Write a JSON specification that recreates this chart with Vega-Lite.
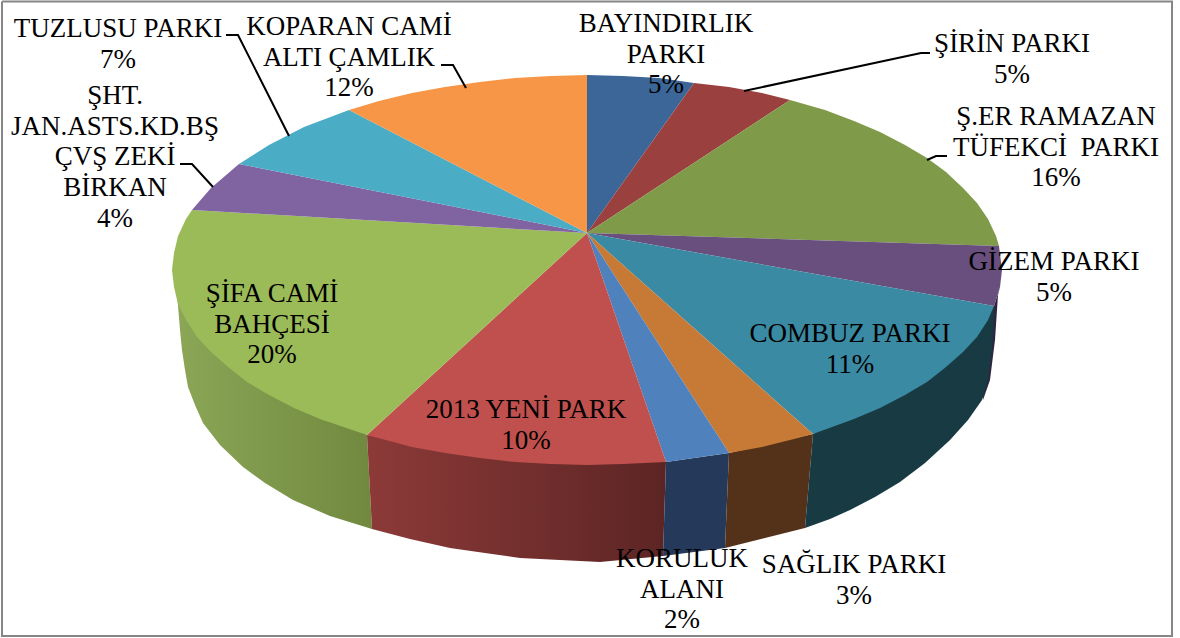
{"$schema":"https://vega.github.io/schema/vega-lite/v6.json","width":1180,"height":638,"padding":0,"autosize":"none","background":"white","config":{"view":{"stroke":null}},
"datasets":{
"faces":[
{"p":"w green","i":1,"x":-220,"y":-202},{"p":"w green","i":2,"x":-410,"y":-60},{"p":"w green","i":3,"x":-407,"y":-97},{"p":"w green","i":4,"x":-405,"y":-117},{"p":"w green","i":5,"x":-402,"y":-137},{"p":"w green","i":6,"x":-399,"y":-154},{"p":"w green","i":7,"x":-392,"y":-172},{"p":"w green","i":8,"x":-384,"y":-190},{"p":"w green","i":9,"x":-367,"y":-212},{"p":"w green","i":10,"x":-344,"y":-234},{"p":"w green","i":11,"x":-322,"y":-250},{"p":"w green","i":12,"x":-294,"y":-267},{"p":"w green","i":13,"x":-257,"y":-283},{"p":"w green","i":14,"x":-215,"y":-296},
{"p":"w red","i":1,"x":-220,"y":-202},{"p":"w red","i":2,"x":79,"y":-229},{"p":"w red","i":3,"x":76,"y":-323},{"p":"w red","i":4,"x":13,"y":-329},{"p":"w red","i":5,"x":-67,"y":-325},{"p":"w red","i":6,"x":-102,"y":-320},{"p":"w red","i":7,"x":-137,"y":-315},{"p":"w red","i":8,"x":-177,"y":-306},{"p":"w red","i":9,"x":-215,"y":-296},
{"p":"w blue","i":1,"x":79,"y":-229},{"p":"w blue","i":2,"x":142,"y":-220},{"p":"w blue","i":3,"x":138,"y":-315},{"p":"w blue","i":4,"x":76,"y":-323},
{"p":"w orange","i":1,"x":142,"y":-220},{"p":"w orange","i":2,"x":226,"y":-201},{"p":"w orange","i":3,"x":218,"y":-295},{"p":"w orange","i":4,"x":138,"y":-315},
{"p":"w purple","i":1,"x":413,"y":-54},{"p":"w purple","i":2,"x":411,"y":-62},{"p":"w purple","i":3,"x":408,"y":-107},{"p":"w purple","i":4,"x":403,"y":-147},{"p":"w purple","i":5,"x":396,"y":-167},{"p":"w purple","i":6,"x":395,"y":-160},{"p":"w purple","i":7,"x":400,"y":-110},{"p":"w purple","i":8,"x":407,"y":-73},
{"p":"w teal","i":1,"x":226,"y":-201},{"p":"w teal","i":2,"x":407,"y":-73},{"p":"w teal","i":3,"x":406,"y":-107},{"p":"w teal","i":4,"x":401,"y":-147},{"p":"w teal","i":5,"x":395,"y":-167},{"p":"w teal","i":6,"x":381,"y":-187},{"p":"w teal","i":7,"x":363,"y":-207},{"p":"w teal","i":8,"x":338,"y":-230},{"p":"w teal","i":9,"x":313,"y":-249},{"p":"w teal","i":10,"x":288,"y":-264},{"p":"w teal","i":11,"x":263,"y":-277},{"p":"w teal","i":12,"x":243,"y":-286},{"p":"w teal","i":13,"x":218,"y":-295},
{"p":"BAYINDIRLIK PARKI","i":0,"x":0,"y":0},{"p":"BAYINDIRLIK PARKI","i":1,"x":0,"y":158},{"p":"BAYINDIRLIK PARKI","i":2,"x":36,"y":157},{"p":"BAYINDIRLIK PARKI","i":3,"x":72,"y":155},{"p":"BAYINDIRLIK PARKI","i":4,"x":107,"y":150},
{"p":"ŞİRİN PARKI","i":0,"x":0,"y":0},{"p":"ŞİRİN PARKI","i":1,"x":107,"y":150},{"p":"ŞİRİN PARKI","i":2,"x":142,"y":146},{"p":"ŞİRİN PARKI","i":3,"x":175,"y":140},{"p":"ŞİRİN PARKI","i":4,"x":203,"y":133},
{"p":"Ş.ER RAMAZAN TÜFEKCİ PARKI","i":0,"x":0,"y":0},{"p":"Ş.ER RAMAZAN TÜFEKCİ PARKI","i":1,"x":203,"y":133},{"p":"Ş.ER RAMAZAN TÜFEKCİ PARKI","i":2,"x":238,"y":123},{"p":"Ş.ER RAMAZAN TÜFEKCİ PARKI","i":3,"x":267,"y":112},{"p":"Ş.ER RAMAZAN TÜFEKCİ PARKI","i":4,"x":293,"y":101},{"p":"Ş.ER RAMAZAN TÜFEKCİ PARKI","i":5,"x":318,"y":88},{"p":"Ş.ER RAMAZAN TÜFEKCİ PARKI","i":6,"x":340,"y":75},{"p":"Ş.ER RAMAZAN TÜFEKCİ PARKI","i":7,"x":359,"y":61},{"p":"Ş.ER RAMAZAN TÜFEKCİ PARKI","i":8,"x":376,"y":45},{"p":"Ş.ER RAMAZAN TÜFEKCİ PARKI","i":9,"x":390,"y":30},{"p":"Ş.ER RAMAZAN TÜFEKCİ PARKI","i":10,"x":401,"y":14},{"p":"Ş.ER RAMAZAN TÜFEKCİ PARKI","i":11,"x":409,"y":-3},{"p":"Ş.ER RAMAZAN TÜFEKCİ PARKI","i":12,"x":412,"y":-13},
{"p":"GİZEM PARKI","i":0,"x":0,"y":0},{"p":"GİZEM PARKI","i":1,"x":412,"y":-13},{"p":"GİZEM PARKI","i":2,"x":415,"y":-37},{"p":"GİZEM PARKI","i":3,"x":413,"y":-54},{"p":"GİZEM PARKI","i":4,"x":407,"y":-73},
{"p":"COMBUZ PARKI","i":0,"x":0,"y":0},{"p":"COMBUZ PARKI","i":1,"x":407,"y":-73},{"p":"COMBUZ PARKI","i":2,"x":401,"y":-87},{"p":"COMBUZ PARKI","i":3,"x":390,"y":-104},{"p":"COMBUZ PARKI","i":4,"x":376,"y":-119},{"p":"COMBUZ PARKI","i":5,"x":359,"y":-134},{"p":"COMBUZ PARKI","i":6,"x":340,"y":-149},{"p":"COMBUZ PARKI","i":7,"x":318,"y":-162},{"p":"COMBUZ PARKI","i":8,"x":293,"y":-175},{"p":"COMBUZ PARKI","i":9,"x":267,"y":-186},{"p":"COMBUZ PARKI","i":10,"x":226,"y":-201},
{"p":"SAĞLIK PARKI","i":0,"x":0,"y":0},{"p":"SAĞLIK PARKI","i":1,"x":226,"y":-201},{"p":"SAĞLIK PARKI","i":2,"x":207,"y":-206},{"p":"SAĞLIK PARKI","i":3,"x":175,"y":-214},{"p":"SAĞLIK PARKI","i":4,"x":142,"y":-220},
{"p":"KORULUK ALANI","i":0,"x":0,"y":0},{"p":"KORULUK ALANI","i":1,"x":142,"y":-220},{"p":"KORULUK ALANI","i":2,"x":107,"y":-225},{"p":"KORULUK ALANI","i":3,"x":79,"y":-229},
{"p":"2013 YENİ PARK","i":0,"x":0,"y":0},{"p":"2013 YENİ PARK","i":1,"x":79,"y":-229},{"p":"2013 YENİ PARK","i":2,"x":36,"y":-231},{"p":"2013 YENİ PARK","i":3,"x":0,"y":-232},{"p":"2013 YENİ PARK","i":4,"x":-36,"y":-231},{"p":"2013 YENİ PARK","i":5,"x":-72,"y":-229},{"p":"2013 YENİ PARK","i":6,"x":-107,"y":-225},{"p":"2013 YENİ PARK","i":7,"x":-142,"y":-220},{"p":"2013 YENİ PARK","i":8,"x":-175,"y":-214},{"p":"2013 YENİ PARK","i":9,"x":-220,"y":-202},
{"p":"ŞİFA CAMİ BAHÇESİ","i":0,"x":0,"y":0},{"p":"ŞİFA CAMİ BAHÇESİ","i":1,"x":-220,"y":-202},{"p":"ŞİFA CAMİ BAHÇESİ","i":2,"x":-267,"y":-186},{"p":"ŞİFA CAMİ BAHÇESİ","i":3,"x":-293,"y":-175},{"p":"ŞİFA CAMİ BAHÇESİ","i":4,"x":-318,"y":-162},{"p":"ŞİFA CAMİ BAHÇESİ","i":5,"x":-340,"y":-149},{"p":"ŞİFA CAMİ BAHÇESİ","i":6,"x":-359,"y":-134},{"p":"ŞİFA CAMİ BAHÇESİ","i":7,"x":-376,"y":-119},{"p":"ŞİFA CAMİ BAHÇESİ","i":8,"x":-390,"y":-104},{"p":"ŞİFA CAMİ BAHÇESİ","i":9,"x":-401,"y":-87},{"p":"ŞİFA CAMİ BAHÇESİ","i":10,"x":-409,"y":-71},{"p":"ŞİFA CAMİ BAHÇESİ","i":11,"x":-413,"y":-54},{"p":"ŞİFA CAMİ BAHÇESİ","i":12,"x":-415,"y":-37},{"p":"ŞİFA CAMİ BAHÇESİ","i":13,"x":-413,"y":-20},{"p":"ŞİFA CAMİ BAHÇESİ","i":14,"x":-409,"y":-3},{"p":"ŞİFA CAMİ BAHÇESİ","i":15,"x":-401,"y":14},{"p":"ŞİFA CAMİ BAHÇESİ","i":16,"x":-395,"y":23},
{"p":"ŞHT. JAN.ASTS.KD.BŞ ÇVŞ ZEKİ BİRKAN","i":0,"x":0,"y":0},{"p":"ŞHT. JAN.ASTS.KD.BŞ ÇVŞ ZEKİ BİRKAN","i":1,"x":-395,"y":23},{"p":"ŞHT. JAN.ASTS.KD.BŞ ÇVŞ ZEKİ BİRKAN","i":2,"x":-376,"y":45},{"p":"ŞHT. JAN.ASTS.KD.BŞ ÇVŞ ZEKİ BİRKAN","i":3,"x":-348,"y":69},
{"p":"TUZLUSU PARKI","i":0,"x":0,"y":0},{"p":"TUZLUSU PARKI","i":1,"x":-348,"y":69},{"p":"TUZLUSU PARKI","i":2,"x":-318,"y":88},{"p":"TUZLUSU PARKI","i":3,"x":-283,"y":106},{"p":"TUZLUSU PARKI","i":4,"x":-238,"y":123},
{"p":"KOPARAN CAMİ ALTI ÇAMLIK","i":0,"x":0,"y":0},{"p":"KOPARAN CAMİ ALTI ÇAMLIK","i":1,"x":-238,"y":123},{"p":"KOPARAN CAMİ ALTI ÇAMLIK","i":2,"x":-208,"y":132},{"p":"KOPARAN CAMİ ALTI ÇAMLIK","i":3,"x":-175,"y":140},{"p":"KOPARAN CAMİ ALTI ÇAMLIK","i":4,"x":-142,"y":146},{"p":"KOPARAN CAMİ ALTI ÇAMLIK","i":5,"x":-107,"y":151},{"p":"KOPARAN CAMİ ALTI ÇAMLIK","i":6,"x":-72,"y":155},{"p":"KOPARAN CAMİ ALTI ÇAMLIK","i":7,"x":-36,"y":157},{"p":"KOPARAN CAMİ ALTI ÇAMLIK","i":8,"x":0,"y":158}
],
"leaders":[
{"p":"a","i":1,"x":-361,"y":198},{"p":"a","i":2,"x":-349,"y":198},{"p":"a","i":3,"x":-298,"y":97},
{"p":"b","i":1,"x":-146,"y":168},{"p":"b","i":2,"x":-134,"y":168},{"p":"b","i":3,"x":-121,"y":145},
{"p":"c","i":1,"x":343,"y":180},{"p":"c","i":2,"x":334,"y":180},{"p":"c","i":3,"x":157,"y":142},
{"p":"d","i":1,"x":360,"y":77},{"p":"d","i":2,"x":349,"y":77},{"p":"d","i":3,"x":340,"y":73},
{"p":"e","i":1,"x":-407,"y":69},{"p":"e","i":2,"x":-395,"y":69},{"p":"e","i":3,"x":-374,"y":46}
],
"frame":[
{"i":1,"x":-585,"y":231.5},{"i":2,"x":585,"y":231.5},{"i":3,"x":585,"y":-403},{"i":4,"x":-585,"y":-403},{"i":5,"x":-585,"y":231.5}
],
"labels":[
{"label":"BAYINDIRLIK\nPARKI\n5%","x":79,"y":201},
{"label":"ŞİRİN PARKI\n5%","x":425,"y":181},
{"label":"Ş.ER RAMAZAN\nTÜFEKCİ\u00a0 PARKI\n16%","x":469,"y":108},
{"label":"GİZEM PARKI\n5%","x":467,"y":-37},
{"label":"COMBUZ PARKI\n11%","x":263,"y":-109},
{"label":"SAĞLIK PARKI\n3%","x":267,"y":-340},
{"label":"KORULUK\nALANI\n2%","x":95,"y":-334},
{"label":"2013 YENİ PARK\n10%","x":-61,"y":-185},
{"label":"ŞİFA CAMİ\nBAHÇESİ\n20%","x":-315,"y":-69},
{"label":"ŞHT.\nJAN.ASTS.KD.BŞ\nÇVŞ ZEKİ\nBİRKAN\n4%","x":-472,"y":129},
{"label":"TUZLUSU PARKI\n7%","x":-469,"y":196},
{"label":"KOPARAN CAMİ\nALTI ÇAMLIK\n12%","x":-238,"y":198}
]},
"encoding":{"x":{"field":"x","type":"quantitative","axis":null,"scale":{"domain":[-587,593],"nice":false,"zero":false}},"y":{"field":"y","type":"quantitative","axis":null,"scale":{"domain":[-405,233],"nice":false,"zero":false}}},
"layer":[
{"data":{"name":"frame"},"mark":{"type":"line","stroke":"#868686","strokeWidth":2},"encoding":{"order":{"field":"i"}}},
{"data":{"name":"faces"},"transform":[{"filter":"datum.p==='w green'"}],"mark":{"type":"line","filled":true,"strokeWidth":0,"fill":{"gradient":"linear","x1":0,"y1":0,"x2":1,"y2":0,"stops":[{"offset":0,"color":"#8aa656"},{"offset":1,"color":"#71893f"}]}},"encoding":{"order":{"field":"i"}}},
{"data":{"name":"faces"},"transform":[{"filter":"datum.p==='w red'"}],"mark":{"type":"line","filled":true,"strokeWidth":0,"fill":{"gradient":"linear","x1":0,"y1":0,"x2":1,"y2":0,"stops":[{"offset":0,"color":"#8c3a38"},{"offset":1,"color":"#5c2524"}]}},"encoding":{"order":{"field":"i"}}},
{"data":{"name":"faces"},"transform":[{"filter":"datum.p!=='w green' && datum.p!=='w red'"}],"mark":{"type":"line","filled":true,"strokeWidth":0},"encoding":{"order":{"field":"i"},"fill":{"field":"p","type":"nominal","legend":null,"sort":null,"scale":{
"domain":["w blue","w orange","w purple","w teal","BAYINDIRLIK PARKI","ŞİRİN PARKI","Ş.ER RAMAZAN TÜFEKCİ PARKI","GİZEM PARKI","COMBUZ PARKI","SAĞLIK PARKI","KORULUK ALANI","2013 YENİ PARK","ŞİFA CAMİ BAHÇESİ","ŞHT. JAN.ASTS.KD.BŞ ÇVŞ ZEKİ BİRKAN","TUZLUSU PARKI","KOPARAN CAMİ ALTI ÇAMLIK"],
"range":["#25395a","#54321a","#2f2540","#183a42","#3c6698","#9a403e","#7f9a48","#684f7e","#3a8aa3","#c77a36","#4f81bd","#c0504d","#9bbb59","#8064a2","#4bacc6","#f79646"]}}}},
{"data":{"name":"leaders"},"mark":{"type":"line","stroke":"black","strokeWidth":2},"encoding":{"order":{"field":"i"},"detail":{"field":"p"}}},
{"data":{"name":"labels"},"mark":{"type":"text","font":"Liberation Serif","fontSize":27,"fill":"black","align":"center","baseline":"alphabetic","lineBreak":"\n","lineHeight":30.7},"encoding":{"text":{"field":"label"}}}
]}
